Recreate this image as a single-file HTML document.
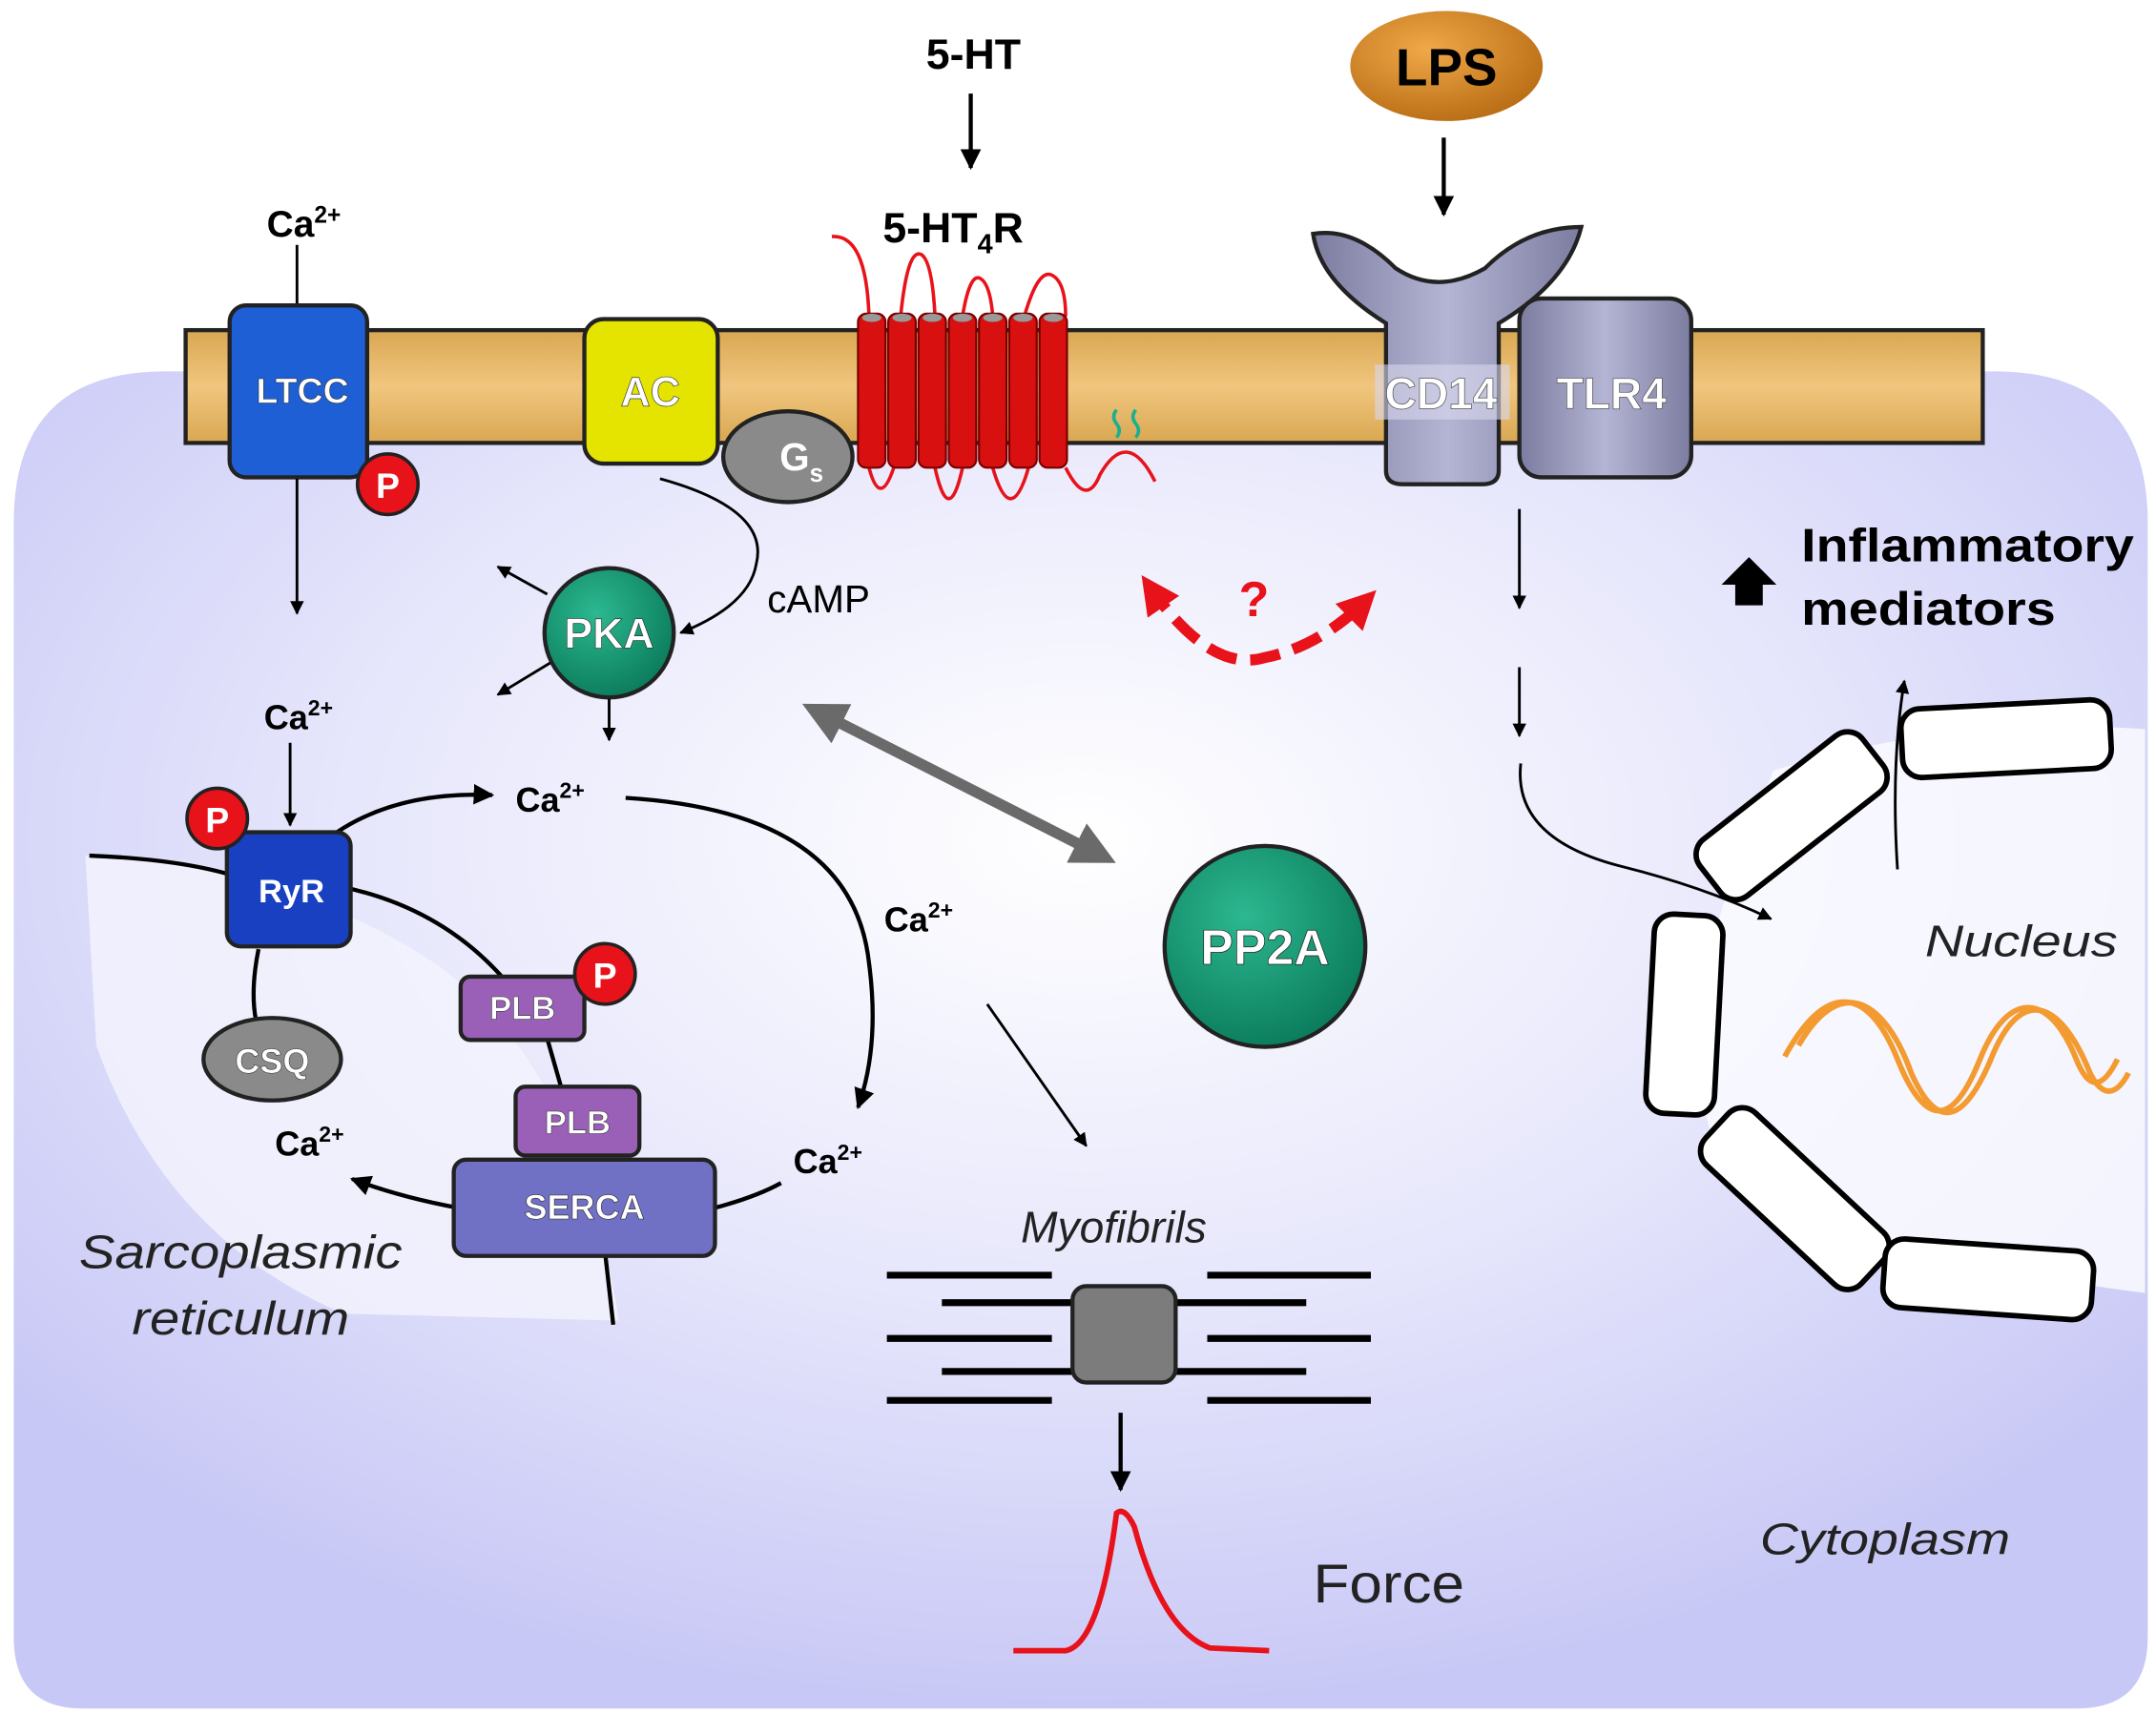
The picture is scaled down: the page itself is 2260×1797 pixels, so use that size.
<!DOCTYPE html>
<html><head><meta charset="utf-8"><style>
html,body{margin:0;padding:0;background:#fff;}
svg{display:block;}
text{font-family:"Liberation Sans",Arial,sans-serif;}
</style></head><body>
<svg width="2260" height="1797" viewBox="0 0 1568 1246" preserveAspectRatio="none" xmlns="http://www.w3.org/2000/svg">
<defs>
<radialGradient id="cell" cx="0.5" cy="0.35" r="0.65">
<stop offset="0" stop-color="#ffffff"/><stop offset="0.5" stop-color="#e8e8fc"/><stop offset="1" stop-color="#c8c8f6"/></radialGradient>
<linearGradient id="mem" x1="0" y1="0" x2="0" y2="1"><stop offset="0" stop-color="#d9a752"/><stop offset="0.5" stop-color="#f0c67e"/><stop offset="1" stop-color="#d9a752"/></linearGradient>
<radialGradient id="lps" cx="0.4" cy="0.35" r="0.7"><stop offset="0" stop-color="#f0a848"/><stop offset="1" stop-color="#b86c14"/></radialGradient>
<radialGradient id="grn" cx="0.4" cy="0.35" r="0.7"><stop offset="0" stop-color="#2cb890"/><stop offset="1" stop-color="#0a7a5a"/></radialGradient>
<linearGradient id="gray" x1="0" y1="0" x2="1" y2="0"><stop offset="0" stop-color="#7c7ca0"/><stop offset="0.5" stop-color="#b4b4d4"/><stop offset="1" stop-color="#7c7ca0"/></linearGradient>
<marker id="ah" viewBox="0 0 10 10" refX="9" refY="5" markerWidth="5" markerHeight="5" orient="auto"><path d="M0,0 L10,5 L0,10 z" fill="#000"/></marker>
<marker id="ahg" viewBox="0 0 10 10" refX="7" refY="5" markerWidth="4" markerHeight="4" orient="auto-start-reverse"><path d="M0,0 L10,5 L0,10 z" fill="#6a6a6a"/></marker>
<marker id="ahr" viewBox="0 0 10 10" refX="7" refY="5" markerWidth="3.5" markerHeight="3.5" orient="auto-start-reverse"><path d="M0,0 L10,5 L0,10 z" fill="#e8121a"/></marker>
</defs>
<rect width="1568" height="1246" fill="#fff"/>
<path d="M120,270 L1450,270 Q1562,270 1562,380 L1562,1190 Q1562,1242 1510,1242 L60,1242 Q10,1242 10,1190 L10,380 Q10,270 120,270 Z" fill="url(#cell)"/>
<path d="M62,622 Q200,630 300,690 Q420,760 450,960 L250,955 Q120,900 70,760 Z" fill="#f4f4fe" opacity="0.8"/>
<path d="M1290,560 Q1420,520 1560,530 L1560,940 Q1400,920 1260,860 Q1200,760 1290,560 Z" fill="#fafaff" opacity="0.85"/>
<rect x="135" y="240" width="1307" height="82" fill="url(#mem)" stroke="#222" stroke-width="3"/>
<line x1="216" y1="178" x2="216" y2="225" stroke="#000" stroke-width="2"/>
<text x="194" y="172" font-size="27" font-weight="bold">Ca<tspan font-size="17" dy="-10">2+</tspan></text>
<rect x="167" y="222" width="100" height="125" rx="12" fill="#1e5fd6" stroke="#222" stroke-width="3"/>
<text x="220" y="293" font-size="26" font-weight="bold" fill="#fff" text-anchor="middle" stroke="#222" stroke-width="0.4">LTCC</text>
<circle cx="282" cy="352" r="22" fill="#e8121a" stroke="#222" stroke-width="2.5"/>
<text x="282" y="362" font-size="26" font-weight="bold" fill="#fff" text-anchor="middle">P</text>
<line x1="216" y1="348" x2="216" y2="446" stroke="#000" stroke-width="2" marker-end="url(#ah)"/>
<rect x="425" y="232" width="97" height="105" rx="14" fill="#e4e400" stroke="#222" stroke-width="3"/>
<text x="473" y="295" font-size="30" font-weight="bold" fill="#fff" text-anchor="middle" stroke="#444" stroke-width="0.5">AC</text>
<ellipse cx="573" cy="332" rx="47" ry="33" fill="#8a8a8a" stroke="#222" stroke-width="3"/>
<text x="567" y="342" font-size="28" font-weight="bold" fill="#fff">G<tspan font-size="18" dy="8">s</tspan></text>
<text x="708" y="50" font-size="31" font-weight="bold" text-anchor="middle">5-HT</text>
<line x1="706" y1="68" x2="706" y2="122" stroke="#000" stroke-width="3" marker-end="url(#ah)"/>
<text x="642" y="176" font-size="31" font-weight="bold">5-HT<tspan font-size="20" dy="8">4</tspan><tspan dy="-8">R</tspan></text>
<path d="M605,172 Q630,170 632,230 M655,230 Q660,180 670,185 Q678,190 680,230 M700,230 Q705,200 712,202 Q720,205 722,230 M745,230 Q755,195 765,200 Q775,205 775,230" fill="none" stroke="#e8121a" stroke-width="2.5"/>
<path d="M632,340 Q640,370 650,340 M680,340 Q690,385 700,340 M722,340 Q735,385 748,340 M775,340 Q790,370 800,345 Q820,310 840,350" fill="none" stroke="#e8121a" stroke-width="2.5"/>
<g fill="#d81010" stroke="#7a0000" stroke-width="1.5">
<rect x="624" y="228" width="20" height="112" rx="6"/><rect x="646" y="228" width="20" height="112" rx="6"/>
<rect x="668" y="228" width="20" height="112" rx="6"/><rect x="690" y="228" width="20" height="112" rx="6"/>
<rect x="712" y="228" width="20" height="112" rx="6"/><rect x="734" y="228" width="20" height="112" rx="6"/>
<rect x="756" y="228" width="20" height="112" rx="6"/></g>
<g fill="#999"><ellipse cx="634" cy="231" rx="7" ry="3"/><ellipse cx="656" cy="231" rx="7" ry="3"/><ellipse cx="678" cy="231" rx="7" ry="3"/><ellipse cx="700" cy="231" rx="7" ry="3"/><ellipse cx="722" cy="231" rx="7" ry="3"/><ellipse cx="744" cy="231" rx="7" ry="3"/><ellipse cx="766" cy="231" rx="7" ry="3"/></g>
<path d="M812,318 q4,-5 0,-10 q-4,-5 0,-10 M826,318 q4,-5 0,-10 q-4,-5 0,-10" fill="none" stroke="#18b090" stroke-width="2.5"/>
<ellipse cx="1052" cy="48" rx="70" ry="40" fill="url(#lps)"/>
<text x="1052" y="62" font-size="38" font-weight="bold" text-anchor="middle">LPS</text>
<line x1="1050" y1="100" x2="1050" y2="156" stroke="#000" stroke-width="3" marker-end="url(#ah)"/>
<path d="M955,170 Q985,165 1015,195 Q1045,215 1080,195 Q1110,165 1150,165 Q1140,205 1090,235 L1090,342 Q1090,352 1078,352 L1020,352 Q1008,352 1008,342 L1008,235 Q960,205 955,170 Z" fill="url(#gray)" stroke="#222" stroke-width="3"/>
<rect x="1000" y="265" width="98" height="40" fill="#d8d8ee" opacity="0.6"/>
<text x="1048" y="297" font-size="32" font-weight="bold" fill="#fff" text-anchor="middle" stroke="#555" stroke-width="0.5">CD14</text>
<rect x="1105" y="217" width="125" height="130" rx="16" fill="url(#gray)" stroke="#222" stroke-width="3"/>
<text x="1172" y="297" font-size="32" font-weight="bold" fill="#fff" text-anchor="middle" stroke="#555" stroke-width="0.5">TLR4</text>
<line x1="1105" y1="370" x2="1105" y2="442" stroke="#000" stroke-width="2" marker-end="url(#ah)"/>
<line x1="1105" y1="485" x2="1105" y2="535" stroke="#000" stroke-width="2" marker-end="url(#ah)"/>
<path d="M1106,555 Q1100,610 1180,630 Q1240,645 1288,668" fill="none" stroke="#000" stroke-width="2" marker-end="url(#ah)"/>
<path d="M1380,632 Q1375,555 1385,495" fill="none" stroke="#000" stroke-width="2" marker-end="url(#ah)"/>
<path d="M1262,440 L1262,425 L1252,425 L1272,405 L1292,425 L1282,425 L1282,440 Z" fill="#000"/>
<text x="1310" y="408" font-size="34" font-weight="bold" textLength="242" lengthAdjust="spacingAndGlyphs">Inflammatory</text>
<text x="1310" y="454" font-size="34" font-weight="bold" textLength="185" lengthAdjust="spacingAndGlyphs">mediators</text>
<g fill="#fff" stroke="#000" stroke-width="4">
<rect x="1383" y="512" width="152" height="50" rx="14" transform="rotate(-3 1459 537)"/>
<rect x="1228" y="567" width="150" height="52" rx="14" transform="rotate(-38 1303 593)"/>
<rect x="1200" y="665" width="50" height="145" rx="14" transform="rotate(3 1225 737)"/>
<rect x="1228" y="845" width="155" height="52" rx="14" transform="rotate(43 1305 871)"/>
<rect x="1370" y="905" width="152" height="50" rx="14" transform="rotate(4 1446 930)"/>
</g>
<text x="1400" y="695" font-size="32" font-style="italic" fill="#222" textLength="140" lengthAdjust="spacingAndGlyphs">Nucleus</text>
<path d="M1298,768 C1330,710 1360,720 1380,770 C1400,820 1420,820 1440,770 C1460,720 1490,720 1510,770 C1520,795 1530,790 1540,770" fill="none" stroke="#f39a30" stroke-width="4"/>
<path d="M1308,760 C1340,705 1372,730 1390,780 C1410,825 1430,815 1450,765 C1472,715 1500,730 1520,780 C1530,800 1540,795 1548,780" fill="none" stroke="#f39a30" stroke-width="4"/>
<path d="M480,348 Q560,370 550,410 Q545,440 495,460" fill="none" stroke="#000" stroke-width="2" marker-end="url(#ah)"/>
<text x="558" y="445" font-size="28">cAMP</text>
<circle cx="443" cy="460" r="47" fill="url(#grn)" stroke="#222" stroke-width="3"/>
<text x="443" y="471" font-size="31" font-weight="bold" fill="#fff" text-anchor="middle" stroke="#222" stroke-width="0.4">PKA</text>
<line x1="398" y1="432" x2="362" y2="412" stroke="#000" stroke-width="2" marker-end="url(#ah)"/>
<line x1="400" y1="482" x2="362" y2="505" stroke="#000" stroke-width="2" marker-end="url(#ah)"/>
<line x1="443" y1="508" x2="443" y2="538" stroke="#000" stroke-width="2" marker-end="url(#ah)"/>
<path d="M835,425 Q880,490 920,478 Q960,470 995,435" fill="none" stroke="#e8121a" stroke-width="8" stroke-dasharray="22,10" marker-start="url(#ahr)" marker-end="url(#ahr)"/>
<text x="912" y="448" font-size="36" font-weight="bold" fill="#e8121a" text-anchor="middle">?</text>
<line x1="592" y1="516" x2="803" y2="623" stroke="#6a6a6a" stroke-width="8" marker-start="url(#ahg)" marker-end="url(#ahg)"/>
<circle cx="920" cy="688" r="73" fill="url(#grn)" stroke="#222" stroke-width="3"/>
<text x="920" y="701" font-size="36" font-weight="bold" fill="#fff" text-anchor="middle" stroke="#222" stroke-width="0.5">PP2A</text>
<text x="192" y="530" font-size="25" font-weight="bold">Ca<tspan font-size="16" dy="-10">2+</tspan></text>
<line x1="211" y1="540" x2="211" y2="600" stroke="#000" stroke-width="2" marker-end="url(#ah)"/>
<text x="375" y="590" font-size="25" font-weight="bold">Ca<tspan font-size="16" dy="-10">2+</tspan></text>
<path d="M245,605 Q290,575 358,578" fill="none" stroke="#000" stroke-width="3" marker-end="url(#ah)"/>
<path d="M455,580 Q620,590 632,700 Q640,760 624,805" fill="none" stroke="#000" stroke-width="3" marker-end="url(#ah)"/>
<text x="643" y="677" font-size="25" font-weight="bold">Ca<tspan font-size="16" dy="-10">2+</tspan></text>
<text x="577" y="853" font-size="25" font-weight="bold">Ca<tspan font-size="16" dy="-10">2+</tspan></text>
<line x1="718" y1="730" x2="790" y2="833" stroke="#000" stroke-width="2" marker-end="url(#ah)"/>
<path d="M65,622 Q140,625 180,640" fill="none" stroke="#000" stroke-width="3"/>
<path d="M250,645 Q320,660 365,710" fill="none" stroke="#000" stroke-width="3"/>
<path d="M188,690 Q180,730 190,755" fill="none" stroke="#000" stroke-width="3"/>
<line x1="398" y1="755" x2="408" y2="790" stroke="#000" stroke-width="3"/>
<line x1="440" y1="910" x2="446" y2="963" stroke="#000" stroke-width="3"/>
<path d="M520,878 Q550,870 568,860" fill="none" stroke="#000" stroke-width="3"/>
<path d="M333,878 Q290,870 256,857" fill="none" stroke="#000" stroke-width="3" marker-end="url(#ah)"/>
<text x="200" y="840" font-size="25" font-weight="bold">Ca<tspan font-size="16" dy="-10">2+</tspan></text>
<rect x="165" y="605" width="90" height="83" rx="10" fill="#1840c0" stroke="#222" stroke-width="3"/>
<text x="212" y="656" font-size="24" font-weight="bold" fill="#fff" text-anchor="middle">RyR</text>
<circle cx="158" cy="595" r="22" fill="#e8121a" stroke="#222" stroke-width="2.5"/>
<text x="158" y="605" font-size="26" font-weight="bold" fill="#fff" text-anchor="middle">P</text>
<ellipse cx="198" cy="770" rx="50" ry="30" fill="#8a8a8a" stroke="#222" stroke-width="3"/>
<text x="198" y="780" font-size="25" font-weight="bold" fill="#fff" text-anchor="middle" stroke="#333" stroke-width="0.4">CSQ</text>
<rect x="335" y="710" width="90" height="46" rx="7" fill="#9a60b8" stroke="#222" stroke-width="3"/>
<text x="380" y="741" font-size="24" font-weight="bold" fill="#fff" text-anchor="middle" stroke="#333" stroke-width="0.4">PLB</text>
<circle cx="440" cy="708" r="22" fill="#e8121a" stroke="#222" stroke-width="2.5"/>
<text x="440" y="718" font-size="26" font-weight="bold" fill="#fff" text-anchor="middle">P</text>
<rect x="375" y="790" width="90" height="50" rx="7" fill="#9a60b8" stroke="#222" stroke-width="3"/>
<text x="420" y="824" font-size="24" font-weight="bold" fill="#fff" text-anchor="middle" stroke="#333" stroke-width="0.4">PLB</text>
<rect x="330" y="843" width="190" height="70" rx="9" fill="#7070c4" stroke="#222" stroke-width="3"/>
<text x="425" y="886" font-size="25" font-weight="bold" fill="#fff" text-anchor="middle" stroke="#222" stroke-width="0.4">SERCA</text>
<text x="175" y="922" font-size="34" font-style="italic" fill="#222" text-anchor="middle" textLength="235" lengthAdjust="spacingAndGlyphs">Sarcoplasmic</text>
<text x="175" y="970" font-size="34" font-style="italic" fill="#222" text-anchor="middle" textLength="158" lengthAdjust="spacingAndGlyphs">reticulum</text>
<text x="810" y="903" font-size="32" font-style="italic" fill="#222" text-anchor="middle">Myofibrils</text>
<g stroke="#000" stroke-width="5">
<line x1="645" y1="927" x2="765" y2="927"/><line x1="878" y1="927" x2="997" y2="927"/>
<line x1="685" y1="947" x2="950" y2="947"/>
<line x1="645" y1="973" x2="765" y2="973"/><line x1="878" y1="973" x2="997" y2="973"/>
<line x1="685" y1="997" x2="950" y2="997"/>
<line x1="645" y1="1018" x2="765" y2="1018"/><line x1="878" y1="1018" x2="997" y2="1018"/>
</g>
<rect x="780" y="935" width="75" height="70" rx="10" fill="#7c7c7c" stroke="#222" stroke-width="3"/>
<line x1="815" y1="1027" x2="815" y2="1083" stroke="#000" stroke-width="3" marker-end="url(#ah)"/>
<path d="M737,1200 L775,1200 Q800,1195 812,1100 Q818,1095 825,1110 Q845,1185 880,1198 L923,1200" fill="none" stroke="#e8121a" stroke-width="4"/>
<text x="955" y="1165" font-size="40" fill="#222" textLength="110" lengthAdjust="spacingAndGlyphs">Force</text>
<text x="1280" y="1130" font-size="32" font-style="italic" fill="#222" textLength="182" lengthAdjust="spacingAndGlyphs">Cytoplasm</text>
</svg>
</body></html>
